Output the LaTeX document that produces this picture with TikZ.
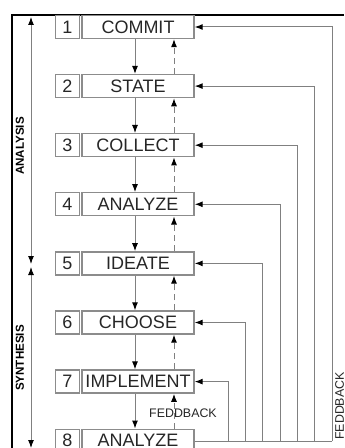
\documentclass[tikz,border=0pt]{standalone}
\usepackage{fontspec}
\setmainfont{Liberation Sans}
\usetikzlibrary{calc, positioning, arrows.meta}

\begin{document}
\begin{tikzpicture}[>=latex, x=0.5pt, y=-0.5pt,
  numbox/.style={draw=black!45, line width=0.7pt, minimum width=12pt, minimum height=11.5pt, inner sep=0pt, text=black!85, font=\fontsize{9}{10}\selectfont},
  stepbox/.style={draw=black!45, line width=0.7pt, minimum width=56pt, minimum height=11.5pt, inner sep=0pt, text=black!85, font=\fontsize{9}{10}\selectfont},
  flow/.style={draw=black!50, line width=0.5pt, -{Latex[black, length=4pt, width=3pt]}},
  backflow/.style={flow, dashed, dash pattern=on 3pt off 2pt},
  feedline/.style={flow},
  span/.style={draw=black!50, line width=0.5pt, {Latex[black, length=4pt, width=3pt]}-{Latex[black, length=4pt, width=3pt]}},
  side/.style={rotate=90, font=\bfseries\fontsize{5.8}{7}\selectfont},
  small/.style={font=\fontsize{6.2}{7}\selectfont, text=black!85}]
  \useasboundingbox (0,0) rectangle (344,448);
  \clip (0,0) rectangle (344,448);

  % frame
  \coordinate (fl) at (12,448);
  \coordinate (fc) at (12,15);
  \coordinate (fr) at (344,15);
  \draw [line width=0.8pt] (fl) -- (fc) -- (fr);

  % steps
  \foreach \i/\name in {1/COMMIT, 2/STATE, 3/COLLECT, 4/ANALYZE, 5/IDEATE, 6/CHOOSE, 7/IMPLEMENT, 8/ANALYZE} {
    \node [numbox] (n\i) at (67.5, {27+59.1*(\i-1)}) {\i};
    \node [stepbox] (b\i) at (138, {27+59.1*(\i-1)}) {\name};
  }

  % forward and back arrows between steps
  \foreach \i [evaluate=\i as \j using int(\i+1)] in {1,...,7} {
    \draw [flow] ([xshift=-1.5pt]b\i.south) -- ([xshift=-1.5pt]b\j.north);
    \draw [backflow] ([xshift=18pt]b\j.north) -- ([xshift=18pt]b\i.south);
  }

  % feedback loops
  \coordinate (fbend) at (332,441);
  \draw [draw=black!50, line width=0.5pt] (b8.east |- fbend) -- (fbend);
  \foreach \i in {1,...,7} {
    \coordinate (fb\i) at ({332-17.33*(\i-1)},441);
    \draw [feedline] (fb\i) |- (b\i.east);
  }
  \node [small] (fbmid) at (183,413) {FEDDBACK};
  \node [small, rotate=90] (fbside) at (339.5,406) {FEDDBACK};

  % phases
  \coordinate (atop) at (31,17);
  \coordinate (amid) at (31,264);
  \coordinate (smid) at (31,267);
  \coordinate (sbot) at (31,448);
  \draw [span] (atop) -- (amid);
  \draw [span] (smid) -- (sbot);
  \node [side] (ana) at (20,146) {ANALYSIS};
  \node [side] (syn) at (20,358) {SYNTHESIS};
\end{tikzpicture}
\end{document}
